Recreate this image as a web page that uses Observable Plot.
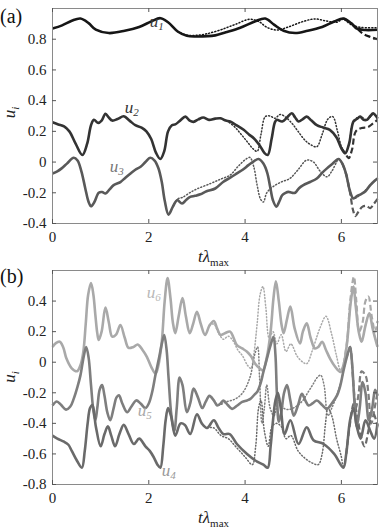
<!DOCTYPE html>
<html><head><meta charset="utf-8">
<script src="https://cdn.jsdelivr.net/npm/d3@7"></script>
<script src="https://cdn.jsdelivr.net/npm/@observablehq/plot@0.6"></script>
<style>
html,body{margin:0;padding:0;background:#fff;}
#wrap{position:relative;width:383px;height:528px;overflow:hidden;}
#wrap svg{position:absolute;left:0;}
#wrap svg text{font-family:"Liberation Serif",serif !important;}
</style></head><body><div id="wrap"></div>
<script>
// ---------- axes ----------
const xDomain = [0, 6.75];
const xTicks = [0, 2, 4, 6];
const xTickLabels = ["0", "2", "4", "6"];
const yDomainA = [-0.4, 1.0];
const yTicksA = [-0.4, -0.2, 0, 0.2, 0.4, 0.6, 0.8];
const yTickLabelsA = ["-0.4", "-0.2", "0", "0.2", "0.4", "0.6", "0.8"];
const yDomainB = [-0.8, 0.6];
const yTicksB = [-0.8, -0.6, -0.4, -0.2, 0, 0.2, 0.4];
const yTickLabelsB = ["-0.8", "-0.6", "-0.4", "-0.2", "0", "0.2", "0.4"];

// ---------- panel (a) ----------
const u1Solid = [[0,0.869],[0.2,0.89],[0.4,0.92],[0.58,0.935],[0.75,0.905],[0.9,0.862],[1.17,0.84],[1.5,0.855],[1.8,0.88],[2.05,0.915],[2.24,0.937],[2.4,0.91],[2.6,0.85],[2.79,0.822],[3.0,0.818],[3.38,0.825],[3.6,0.845],[3.9,0.875],[4.2,0.915],[4.42,0.935],[4.6,0.895],[4.8,0.855],[5.04,0.84],[5.3,0.855],[5.6,0.88],[5.85,0.915],[6.04,0.935],[6.2,0.905],[6.32,0.87],[6.5,0.86],[6.75,0.862]];
const u1Dotted = [[2.6,0.85],[2.8,0.826],[3.0,0.826],[3.2,0.835],[3.5,0.862],[3.8,0.897],[4.1,0.93],[4.3,0.912],[4.45,0.878],[4.66,0.86],[4.9,0.88],[5.2,0.915],[5.45,0.932],[5.7,0.918],[5.9,0.91],[6.04,0.93],[6.2,0.895],[6.4,0.877],[6.75,0.875]];
const u1Dashed = [[6.04,0.935],[6.2,0.905],[6.32,0.872],[6.45,0.835],[6.6,0.815],[6.75,0.8]];

const u2Solid = [[0,0.259],[0.12,0.245],[0.24,0.232],[0.35,0.2],[0.48,0.12],[0.62,0.046],[0.72,0.12],[0.8,0.24],[0.86,0.275],[0.95,0.255],[1.02,0.27],[1.10,0.314],[1.17,0.29],[1.24,0.27],[1.35,0.28],[1.48,0.298],[1.6,0.27],[1.72,0.24],[1.85,0.225],[1.95,0.2],[2.05,0.15],[2.15,0.06],[2.24,0.02],[2.32,0.07],[2.4,0.2],[2.48,0.24],[2.55,0.245],[2.65,0.27],[2.76,0.296],[2.85,0.27],[2.93,0.262],[3.03,0.278],[3.13,0.29],[3.25,0.275],[3.38,0.283],[3.49,0.285],[3.6,0.27],[3.69,0.264],[3.82,0.24],[3.97,0.21],[4.08,0.18],[4.18,0.155],[4.3,0.11],[4.4,0.06],[4.47,0.046],[4.55,0.15],[4.62,0.26],[4.66,0.275],[4.77,0.264],[4.87,0.29],[4.97,0.318],[5.04,0.29],[5.11,0.264],[5.2,0.28],[5.28,0.296],[5.38,0.27],[5.49,0.24],[5.62,0.225],[5.76,0.21],[5.9,0.16],[6.0,0.09],[6.08,0.057],[6.16,0.12],[6.25,0.264],[6.32,0.28],[6.39,0.296],[6.46,0.275],[6.53,0.275],[6.6,0.3],[6.66,0.318],[6.75,0.285]];
const u2Dotted = [[3.49,0.285],[3.63,0.265],[3.78,0.23],[3.92,0.18],[4.05,0.13],[4.17,0.085],[4.25,0.07],[4.33,0.18],[4.42,0.296],[4.52,0.3],[4.62,0.285],[4.73,0.31],[4.85,0.29],[4.98,0.25],[5.1,0.2],[5.25,0.14],[5.38,0.11],[5.49,0.1],[5.6,0.18],[5.72,0.28],[5.82,0.296],[5.92,0.2],[6.0,0.1],[6.08,0.057],[6.16,0.12],[6.25,0.264],[6.39,0.296],[6.53,0.275],[6.66,0.31],[6.75,0.285]];
const u2Dashed = [[6.0,0.09],[6.08,0.057],[6.15,0.025],[6.22,0.08],[6.3,0.2],[6.42,0.222],[6.55,0.228],[6.65,0.25],[6.75,0.275]];

const u3Solid = [[0,-0.074],[0.1,-0.06],[0.19,-0.041],[0.3,-0.01],[0.44,0.028],[0.52,0.01],[0.6,-0.06],[0.68,-0.17],[0.75,-0.26],[0.8,-0.288],[0.87,-0.26],[0.96,-0.2],[1.03,-0.195],[1.10,-0.205],[1.18,-0.18],[1.27,-0.15],[1.41,-0.13],[1.52,-0.1],[1.62,-0.074],[1.72,-0.05],[1.83,-0.03],[1.93,0.0],[2.03,0.028],[2.12,0.01],[2.2,-0.04],[2.27,-0.13],[2.33,-0.25],[2.41,-0.342],[2.5,-0.29],[2.59,-0.248],[2.69,-0.27],[2.78,-0.245],[2.86,-0.227],[2.96,-0.22],[3.07,-0.21],[3.2,-0.19],[3.38,-0.172],[3.55,-0.128],[3.7,-0.1],[3.83,-0.074],[3.95,-0.05],[4.07,-0.02],[4.18,0.005],[4.28,0.02],[4.38,-0.01],[4.46,-0.07],[4.52,-0.16],[4.58,-0.25],[4.65,-0.29],[4.72,-0.25],[4.77,-0.216],[4.84,-0.2],[4.90,-0.194],[4.97,-0.2],[5.04,-0.2],[5.12,-0.17],[5.21,-0.15],[5.35,-0.13],[5.49,-0.107],[5.6,-0.07],[5.7,-0.041],[5.82,-0.01],[5.94,0.02],[6.02,-0.01],[6.1,-0.08],[6.17,-0.18],[6.25,-0.237],[6.33,-0.22],[6.42,-0.207],[6.5,-0.19],[6.6,-0.15],[6.68,-0.125],[6.75,-0.107]];
const u3Dotted = [[2.5,-0.29],[2.6,-0.24],[2.7,-0.23],[2.85,-0.2],[3.0,-0.175],[3.28,-0.14],[3.5,-0.11],[3.69,-0.085],[3.85,-0.03],[4.0,0.015],[4.1,0.03],[4.18,-0.03],[4.25,-0.15],[4.32,-0.24],[4.38,-0.26],[4.45,-0.2],[4.58,-0.16],[4.75,-0.13],[4.93,-0.107],[5.1,-0.05],[5.28,0.013],[5.42,0.0],[5.56,-0.06],[5.7,-0.096],[5.8,-0.06],[5.9,0.0],[5.94,0.02],[6.02,-0.01],[6.1,-0.08],[6.17,-0.18],[6.25,-0.237],[6.42,-0.207],[6.6,-0.15],[6.75,-0.107]];
const u3Dashed = [[6.02,-0.01],[6.1,-0.08],[6.18,-0.2],[6.24,-0.31],[6.29,-0.352],[6.36,-0.32],[6.44,-0.29],[6.52,-0.285],[6.6,-0.3],[6.68,-0.27],[6.75,-0.24]];

// ---------- panel (b) ----------
const u6Solid = [[0,0.10],[0.07,0.125],[0.15,0.134],[0.22,0.1],[0.29,0.024],[0.4,-0.04],[0.51,-0.059],[0.58,-0.02],[0.64,0.068],[0.69,0.25],[0.74,0.44],[0.8,0.518],[0.85,0.44],[0.89,0.31],[0.93,0.19],[0.96,0.145],[1.02,0.2],[1.10,0.357],[1.17,0.26],[1.24,0.167],[1.32,0.18],[1.41,0.243],[1.5,0.16],[1.58,0.094],[1.68,0.1],[1.77,0.116],[1.87,0.08],[1.96,0.035],[2.05,-0.03],[2.14,-0.075],[2.2,-0.02],[2.27,0.134],[2.33,0.4],[2.39,0.55],[2.45,0.42],[2.5,0.26],[2.55,0.19],[2.62,0.3],[2.70,0.42],[2.77,0.3],[2.85,0.19],[2.92,0.25],[3.0,0.33],[3.08,0.25],[3.17,0.178],[3.26,0.24],[3.35,0.27],[3.42,0.22],[3.49,0.178],[3.58,0.19],[3.69,0.2],[3.76,0.16],[3.83,0.112],[3.94,0.09],[4.04,0.068],[4.12,0.04],[4.21,-0.01],[4.3,-0.04],[4.37,-0.053],[4.45,0.03],[4.53,0.2],[4.59,0.42],[4.64,0.53],[4.70,0.4],[4.76,0.24],[4.80,0.19],[4.87,0.28],[4.94,0.364],[5.03,0.22],[5.14,0.123],[5.2,0.2],[5.28,0.254],[5.36,0.16],[5.45,0.09],[5.52,0.1],[5.60,0.134],[5.68,0.08],[5.77,0.02],[5.87,-0.03],[5.98,-0.064],[6.05,-0.01],[6.12,0.134],[6.19,0.38],[6.25,0.495],[6.3,0.36],[6.36,0.2],[6.42,0.134],[6.5,0.24],[6.58,0.32],[6.65,0.22],[6.75,0.1]];
const u6Dotted = [[3.26,0.24],[3.35,0.25],[3.45,0.19],[3.55,0.15],[3.65,0.17],[3.75,0.14],[3.85,0.08],[3.95,0.04],[4.05,-0.02],[4.12,-0.04],[4.18,0.05],[4.25,0.25],[4.31,0.44],[4.37,0.495],[4.43,0.36],[4.5,0.16],[4.58,0.2],[4.66,0.12],[4.75,0.18],[4.85,0.07],[4.95,0.12],[5.08,0.04],[5.2,0.0],[5.28,-0.01],[5.4,0.08],[5.55,0.22],[5.68,0.3],[5.8,0.18],[5.9,0.04],[5.98,-0.05],[6.05,-0.01],[6.12,0.134],[6.19,0.38],[6.25,0.495],[6.3,0.36],[6.36,0.2],[6.42,0.134],[6.5,0.24],[6.58,0.32],[6.65,0.22],[6.75,0.1]];
const u6Dashed = [[6.05,-0.01],[6.12,0.14],[6.19,0.42],[6.26,0.56],[6.31,0.4],[6.37,0.2],[6.44,0.26],[6.5,0.4],[6.56,0.43],[6.63,0.3],[6.7,0.2],[6.75,0.27]];

const u5Solid = [[0,-0.283],[0.09,-0.257],[0.18,-0.28],[0.28,-0.31],[0.37,-0.29],[0.44,-0.24],[0.52,-0.16],[0.58,-0.086],[0.65,0.04],[0.70,0.10],[0.75,0.03],[0.8,-0.15],[0.85,-0.32],[0.89,-0.38],[0.93,-0.3],[0.98,-0.18],[1.03,-0.15],[1.08,-0.22],[1.14,-0.33],[1.2,-0.38],[1.27,-0.3],[1.33,-0.23],[1.38,-0.217],[1.45,-0.27],[1.55,-0.327],[1.64,-0.29],[1.74,-0.25],[1.83,-0.27],[1.93,-0.3],[2.0,-0.27],[2.07,-0.195],[2.14,-0.08],[2.21,0.024],[2.27,0.12],[2.32,0.178],[2.37,0.08],[2.41,-0.1],[2.47,-0.35],[2.53,-0.45],[2.58,-0.3],[2.64,-0.1],[2.7,-0.15],[2.79,-0.327],[2.86,-0.27],[2.93,-0.173],[3.02,-0.23],[3.11,-0.3],[3.18,-0.26],[3.26,-0.22],[3.35,-0.25],[3.42,-0.283],[3.49,-0.27],[3.55,-0.25],[3.64,-0.28],[3.73,-0.305],[3.83,-0.285],[3.94,-0.26],[4.04,-0.25],[4.11,-0.24],[4.2,-0.21],[4.25,-0.195],[4.32,-0.14],[4.38,-0.064],[4.45,0.02],[4.53,0.112],[4.59,0.167],[4.63,0.05],[4.66,-0.2],[4.70,-0.39],[4.75,-0.33],[4.81,-0.2],[4.87,-0.15],[4.94,-0.25],[5.01,-0.35],[5.1,-0.28],[5.18,-0.206],[5.25,-0.25],[5.32,-0.283],[5.4,-0.27],[5.49,-0.25],[5.6,-0.28],[5.70,-0.305],[5.8,-0.27],[5.91,-0.217],[5.98,-0.15],[6.04,-0.06],[6.11,0.03],[6.18,0.1],[6.22,0.0],[6.27,-0.25],[6.32,-0.42],[6.38,-0.3],[6.44,-0.13],[6.5,-0.2],[6.57,-0.38],[6.64,-0.3],[6.7,-0.18],[6.75,-0.22]];
const u5Dotted = [[3.26,-0.22],[3.35,-0.25],[3.45,-0.28],[3.6,-0.26],[3.8,-0.24],[3.95,-0.2],[4.1,-0.1],[4.2,0.05],[4.26,0.1],[4.3,-0.1],[4.35,-0.4],[4.4,-0.3],[4.45,-0.15],[4.52,-0.3],[4.6,-0.35],[4.7,-0.25],[4.8,-0.3],[4.9,-0.31],[5.0,-0.3],[5.1,-0.28],[5.2,-0.25],[5.3,-0.2],[5.4,-0.15],[5.5,-0.1],[5.57,-0.085],[5.64,-0.15],[5.72,-0.35],[5.8,-0.3],[5.9,-0.22],[6.0,-0.12],[6.04,-0.06],[6.11,0.03],[6.18,0.1]];
const u5Dashed = [[6.11,0.03],[6.18,0.1],[6.24,-0.1],[6.3,-0.3],[6.36,-0.2],[6.42,-0.06],[6.5,-0.085],[6.56,-0.2],[6.62,-0.4],[6.69,-0.3],[6.75,-0.2]];

const u4Solid = [[0,-0.48],[0.1,-0.5],[0.24,-0.52],[0.33,-0.54],[0.4,-0.58],[0.5,-0.64],[0.61,-0.69],[0.67,-0.58],[0.73,-0.4],[0.78,-0.3],[0.83,-0.28],[0.9,-0.42],[1.0,-0.55],[1.08,-0.47],[1.15,-0.42],[1.22,-0.48],[1.3,-0.55],[1.39,-0.47],[1.48,-0.41],[1.58,-0.47],[1.69,-0.535],[1.8,-0.5],[1.93,-0.55],[2.02,-0.58],[2.1,-0.62],[2.18,-0.67],[2.24,-0.69],[2.3,-0.55],[2.35,-0.38],[2.4,-0.3],[2.46,-0.35],[2.55,-0.48],[2.66,-0.4],[2.75,-0.41],[2.86,-0.47],[3.0,-0.34],[3.1,-0.4],[3.21,-0.43],[3.35,-0.38],[3.45,-0.43],[3.55,-0.47],[3.68,-0.47],[3.83,-0.535],[4.04,-0.6],[4.25,-0.65],[4.38,-0.67],[4.47,-0.69],[4.53,-0.55],[4.58,-0.38],[4.63,-0.25],[4.68,-0.2],[4.74,-0.3],[4.82,-0.47],[4.94,-0.38],[5.11,-0.535],[5.28,-0.425],[5.42,-0.51],[5.63,-0.535],[5.85,-0.6],[6.04,-0.69],[6.1,-0.6],[6.18,-0.38],[6.25,-0.3],[6.32,-0.42],[6.4,-0.5],[6.5,-0.38],[6.6,-0.45],[6.68,-0.5],[6.75,-0.4]];
const u4Dotted = [[3.21,-0.43],[3.35,-0.43],[3.5,-0.48],[3.65,-0.5],[3.8,-0.55],[4.0,-0.62],[4.15,-0.67],[4.22,-0.55],[4.28,-0.3],[4.33,-0.25],[4.4,-0.45],[4.48,-0.55],[4.56,-0.42],[4.65,-0.4],[4.75,-0.42],[4.85,-0.5],[4.95,-0.48],[5.1,-0.58],[5.25,-0.63],[5.4,-0.66],[5.52,-0.67],[5.6,-0.6],[5.67,-0.4],[5.72,-0.3],[5.8,-0.35],[5.9,-0.5],[6.0,-0.62],[6.04,-0.69],[6.1,-0.6]];
const u4Dashed = [[6.1,-0.6],[6.18,-0.4],[6.26,-0.27],[6.33,-0.35],[6.4,-0.48],[6.48,-0.55],[6.56,-0.45],[6.64,-0.32],[6.7,-0.36],[6.75,-0.42]];

// curve labels [name, subscript, t, value]
const labelsA = [["u","1",2.03,0.876],["u","2",1.51,0.314],["u","3",1.2,-0.065]];
const labelsB = [["u","6",1.97,0.414],["u","5",1.78,-0.355],["u","4",2.28,-0.75]];

// ---------- styles ----------
const W = 383, ML = 52, MR = 6;
const SERIF = "Liberation Serif, serif";

function makePanel(o) {
  const frameH = o.height - o.mt - o.mb;
  const frameW = W - ML - MR;
  const marks = [];
  for (const s of o.series) {
    marks.push(Plot.line(s.data, {x: d => d[0], y: d => d[1], stroke: s.color,
      strokeWidth: s.width, strokeDasharray: s.dash, curve: "catmull-rom",
      strokeLinecap: s.dash === DOT ? "round" : "butt"}));
  }
  marks.push(Plot.frame({stroke: "#8a8a8a", strokeWidth: 1}));
  marks.push(Plot.tickX(xTicks, {x: d => d, insetTop: frameH - 4, stroke: "#555"}));
  marks.push(Plot.tickX(xTicks, {x: d => d, insetBottom: frameH - 4, stroke: "#555"}));
  marks.push(Plot.tickY(o.yTicks, {y: d => d, insetRight: frameW - 4, stroke: "#555"}));
  marks.push(Plot.tickY(o.yTicks, {y: d => d, insetLeft: frameW - 4, stroke: "#555"}));
  marks.push(Plot.axisX(xTicks, {tickSize: 0, tickPadding: 8, label: null, fontFamily: SERIF,
    tickFormat: d => xTickLabels[xTicks.indexOf(d)]}));
  marks.push(Plot.axisY(o.yTicks, {tickSize: 0, tickPadding: 6, label: null, fontFamily: SERIF,
    tickFormat: d => o.yLabels[o.yTicks.indexOf(d)]}));
  const plot = Plot.plot({
    width: W, height: o.height,
    marginLeft: ML, marginRight: MR, marginTop: o.mt, marginBottom: o.mb,
    x: {domain: xDomain}, y: {domain: o.yDomain},
    style: {fontFamily: SERIF, fontSize: "15px", color: "#222", background: "transparent", overflow: "visible"},
    marks
  });
  plot.style.top = o.top + "px";
  plot.setAttribute("font-family", SERIF);
  const svg = d3.select(plot);
  const xs = plot.scale("x"), ys = plot.scale("y");
  svg.append("text").attr("x", 0).attr("y", o.letterY).attr("text-anchor", "start")
    .attr("font-size", 20).attr("fill", "#111").text(o.letter);
  const yc = (o.mt + (o.height - o.mb)) / 2 - o.yLabShift;
  const yl = svg.append("text").attr("transform", `translate(15,${yc}) rotate(-90)`)
    .attr("text-anchor", "middle").attr("font-size", 17).attr("fill", "#222");
  yl.append("tspan").attr("font-style", "italic").text("u");
  yl.append("tspan").attr("font-style", "italic").attr("font-size", 11).attr("dy", 4).text("i");
  const xl = svg.append("text").attr("x", 198).attr("y", o.xLabY).attr("text-anchor", "start")
    .attr("font-size", 17).attr("fill", "#222");
  xl.append("tspan").attr("font-style", "italic").text("t");
  xl.append("tspan").attr("font-style", "italic").text("λ");
  xl.append("tspan").attr("font-size", 11).attr("dy", 4).text("max");
  o.labels.forEach((l, i) => {
    const t = svg.append("text").attr("x", xs.apply(l[2])).attr("y", ys.apply(l[3]))
      .attr("text-anchor", "start").attr("font-size", 17).attr("fill", o.labelColors[i]);
    t.append("tspan").attr("font-style", "italic").text(l[0]);
    t.append("tspan").attr("font-style", "italic").attr("font-size", 11).attr("dy", 3).text(l[1]);
  });
  return plot;
}

const DOT = "1,2.2", DASH = "6,3";
const cU1 = "#161616", cU2 = "#333333", cU3 = "#595959";
const cU4 = "#6a6a6a", cU5 = "#7e7e7e", cU6 = "#a9a9a9";
const seriesA = [
  {data: u1Dotted, color: cU1, width: 1.5, dash: DOT},
  {data: u2Dotted, color: cU2, width: 1.5, dash: DOT},
  {data: u3Dotted, color: cU3, width: 1.5, dash: DOT},
  {data: u1Dashed, color: cU1, width: 2.2, dash: DASH},
  {data: u2Dashed, color: cU2, width: 2.2, dash: DASH},
  {data: u3Dashed, color: cU3, width: 2.2, dash: DASH},
  {data: u3Solid, color: cU3, width: 2.6},
  {data: u2Solid, color: cU2, width: 2.6},
  {data: u1Solid, color: cU1, width: 2.6}
];
const seriesB = [
  {data: u6Dotted, color: cU6, width: 1.5, dash: DOT},
  {data: u5Dotted, color: cU5, width: 1.5, dash: DOT},
  {data: u4Dotted, color: cU4, width: 1.5, dash: DOT},
  {data: u6Dashed, color: cU6, width: 2.2, dash: DASH},
  {data: u5Dashed, color: cU5, width: 2.2, dash: DASH},
  {data: u4Dashed, color: cU4, width: 2.2, dash: DASH},
  {data: u6Solid, color: cU6, width: 2.6},
  {data: u5Solid, color: cU5, width: 2.6},
  {data: u4Solid, color: cU4, width: 2.6}
];

const wrap = document.getElementById("wrap");
wrap.appendChild(makePanel({top: 0, height: 268, mt: 8, mb: 45, yDomain: yDomainA, yTicks: yTicksA,
  yLabels: yTickLabelsA, series: seriesA, labels: labelsA, labelColors: ["#3a3a3a", "#333", "#777"],
  letter: "(a)", letterY: 23, xLabY: 262, yLabShift: 3}));
wrap.appendChild(makePanel({top: 268, height: 260, mt: 2, mb: 44, yDomain: yDomainB, yTicks: yTicksB,
  yLabels: yTickLabelsB, series: seriesB, labels: labelsB, labelColors: ["#b8b8b8", "#a8a8a8", "#999"],
  letter: "(b)", letterY: 15, xLabY: 255, yLabShift: 0}));
</script></body></html>
